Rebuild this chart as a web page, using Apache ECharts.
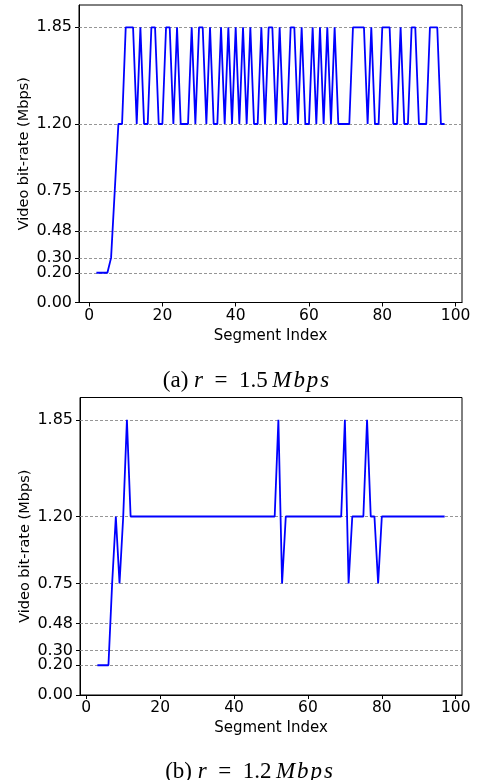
<!DOCTYPE html>
<html>
<head>
<meta charset="utf-8">
<script src="https://cdn.jsdelivr.net/npm/echarts@6/dist/echarts.min.js"></script>
<style>
html,body{margin:0;padding:0;background:#fff;}
#c{width:479px;height:780px;}
</style>
</head>
<body>
<div id="c"></div>
<script>
// Segment index of the first value in each series
const topStart = 2;
const bottomStart = 3;
// (a) r = 1.5 Mbps : bit-rate per segment (Mbps)
const topValues = [
  0.2,0.2,0.2,0.2,0.3,0.75,1.2,1.2,1.85,1.85,           // 2-11
  1.85,1.2,1.85,1.2,1.2,1.85,1.85,1.2,1.2,1.85,        // 12-21
  1.85,1.2,1.85,1.2,1.2,1.2,1.85,1.2,1.85,1.85,        // 22-31
  1.2,1.85,1.2,1.2,1.85,1.2,1.85,1.2,1.85,1.2,         // 32-41
  1.85,1.2,1.85,1.2,1.2,1.85,1.2,1.85,1.85,1.2,        // 42-51
  1.85,1.2,1.2,1.85,1.85,1.2,1.85,1.2,1.2,1.85,        // 52-61
  1.2,1.85,1.2,1.85,1.2,1.85,1.2,1.2,1.2,1.2,          // 62-71
  1.85,1.85,1.85,1.85,1.2,1.85,1.2,1.2,1.85,1.85,      // 72-81
  1.85,1.2,1.2,1.85,1.2,1.2,1.85,1.85,1.2,1.2,         // 82-91
  1.2,1.85,1.85,1.85,1.2,1.2                           // 92-97
];
// (b) r = 1.2 Mbps
const bottomValues = [
  0.2,0.2,0.2,0.2,0.75,1.2,0.75,1.2,1.85,1.2,          // 3-12
  1.2,1.2,1.2,1.2,1.2,1.2,1.2,1.2,1.2,1.2,             // 13-22
  1.2,1.2,1.2,1.2,1.2,1.2,1.2,1.2,1.2,1.2,             // 23-32
  1.2,1.2,1.2,1.2,1.2,1.2,1.2,1.2,1.2,1.2,             // 33-42
  1.2,1.2,1.2,1.2,1.2,1.2,1.2,1.2,1.2,1.85,            // 43-52
  0.75,1.2,1.2,1.2,1.2,1.2,1.2,1.2,1.2,1.2,            // 53-62
  1.2,1.2,1.2,1.2,1.2,1.2,1.2,1.85,0.75,1.2,           // 63-72
  1.2,1.2,1.2,1.85,1.2,1.2,0.75,1.2,1.2,1.2,           // 73-82
  1.2,1.2,1.2,1.2,1.2,1.2,1.2,1.2,1.2,1.2,             // 83-92
  1.2,1.2,1.2,1.2,1.2                                  // 93-97
];
const yTicks = [0, 0.2, 0.3, 0.48, 0.75, 1.2, 1.85];
const xTicks = [0, 20, 40, 60, 80, 100];
const yAxisTitle = 'Video bit-rate (Mbps)';
const xAxisTitle = 'Segment Index';

const toPairs = (start, vals) => vals.map((v, k) => [start + k, v]);

const font = 'DejaVu Sans';
function xAxisCfg(gridIndex, min, max) {
  return {
    type: 'value', gridIndex, min, max,
    axisLine: {show: true, onZero: false, lineStyle: {color: '#000', width: 1}},
    axisTick: {show: true, inside: false, length: 4, lineStyle: {color: '#000'}, customValues: xTicks},
    axisLabel: {show: true, margin: 5, color: '#000', fontFamily: font, fontSize: 15.5, customValues: xTicks,
      formatter: v => String(v)},
    splitLine: {show: false},
    name: xAxisTitle, nameLocation: 'middle', nameGap: 26,
    nameTextStyle: {color: '#000', fontFamily: font, fontSize: 15}
  };
}
function yAxisCfg(gridIndex) {
  return {
    type: 'value', gridIndex, min: 0, max: 2.0,
    axisLine: {show: true, onZero: false, lineStyle: {color: '#000', width: 1}},
    axisTick: {show: true, inside: false, length: 4, lineStyle: {color: '#000'}, customValues: yTicks},
    axisLabel: {show: true, margin: 7, color: '#000', fontFamily: font, fontSize: 16, customValues: yTicks,
      formatter: v => v.toFixed(2)},
    splitLine: {show: false},
    name: yAxisTitle, nameLocation: 'middle', nameGap: 47, nameRotate: 90, nameMoveOverlap: false,
    nameTextStyle: {color: '#000', fontFamily: font, fontSize: 14.5}
  };
}
function gridLines(idx) {
  return {
    type: 'line', xAxisIndex: idx, yAxisIndex: idx, data: [], z: 1, silent: true,
    markLine: {
      silent: true, symbol: 'none', label: {show: false},
      lineStyle: {color: '#8a8a8a', type: [3, 2], width: 0.9},
      data: yTicks.filter(v => v > 0).map(v => ({yAxis: v}))
    }
  };
}
function dataLine(idx, start, vals) {
  return {
    type: 'line', xAxisIndex: idx, yAxisIndex: idx, z: 5,
    data: toPairs(start, vals), showSymbol: false, symbol: 'none',
    lineStyle: {color: '#0000ff', width: 1.8}, itemStyle: {color: '#0000ff'}
  };
}
const serif = 'Liberation Serif';
const rich = {
  n: {fontFamily: serif, fontSize: 23, fontWeight: 'normal', color: '#000'},
  i: {fontFamily: serif, fontSize: 23, fontWeight: 'normal', fontStyle: 'italic', color: '#000'}
};
const cap = (tag, val) => '{n|(' + tag + ') }{i|r}{n|\u2002=\u2002' + val + '\u2009}{i|M\u200Ab\u200Ap\u200As}';

const chart = echarts.init(document.getElementById('c'), null, {renderer: 'canvas'});
chart.setOption({
  animation: false,
  backgroundColor: '#fff',
  title: [
    {text: cap('a', '1.5'), left: 241, top: 364, textAlign: 'center',
      textStyle: {fontWeight: 'normal', rich}},
    {text: cap('b', '1.2'), left: 244, top: 755, textAlign: 'center',
      textStyle: {fontWeight: 'normal', rich}}
  ],
  grid: [
    {left: 79, right: 17, top: 5, bottom: 477.5, show: true, borderColor: '#000', borderWidth: 1, containLabel: false},
    {left: 80, right: 17, top: 397.5, bottom: 85, show: true, borderColor: '#000', borderWidth: 1, containLabel: false}
  ],
  xAxis: [xAxisCfg(0, -2.75, 101.75), xAxisCfg(1, -1.7, 101.7)],
  yAxis: [yAxisCfg(0), yAxisCfg(1)],
  series: [
    gridLines(0), gridLines(1),
    dataLine(0, topStart, topValues),
    dataLine(1, bottomStart, bottomValues)
  ]
});
</script>
</body>
</html>
